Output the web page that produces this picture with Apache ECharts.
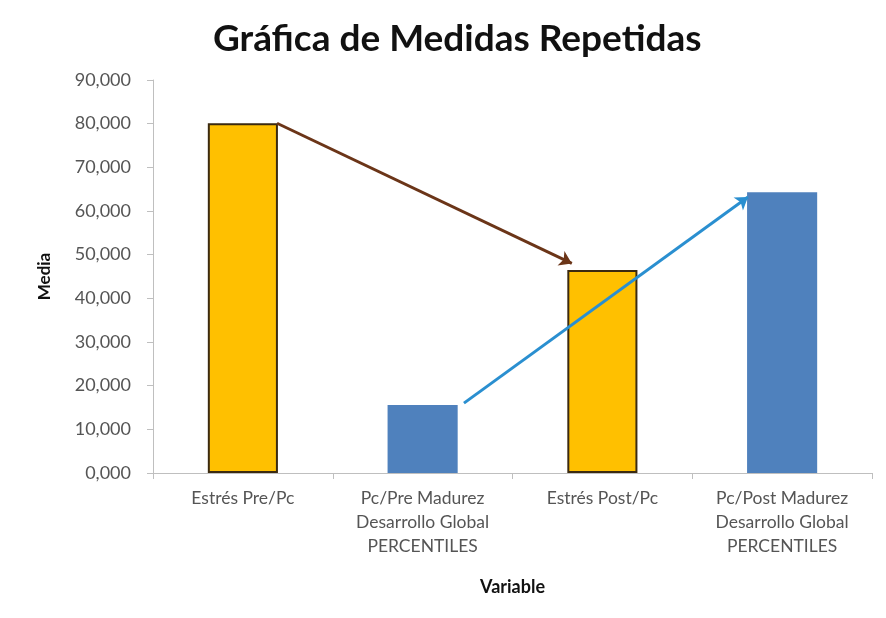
<!DOCTYPE html>
<html>
<head>
<meta charset="utf-8">
<script src="https://cdn.jsdelivr.net/npm/echarts@6/dist/echarts.min.js"></script>
<style>
  html, body { margin: 0; padding: 0; background: #fff; }
  #main { width: 886px; height: 618px; }
</style>
</head>
<body>
<div id="main"></div>
<script>
// datos
var categorias = [
    'Estrés Pre/Pc',
    'Pc/Pre Madurez\nDesarrollo Global\nPERCENTILES',
    'Estrés Post/Pc',
    'Pc/Post Madurez\nDesarrollo Global\nPERCENTILES'
];
var medias = [80.1, 15.6, 46.5, 64.3];
var coloresBarra = ['#FFC000', '#4F81BD', '#FFC000', '#4F81BD'];
var bordeBarra = ['#3b2a10', '#4F81BD', '#3b2a10', '#4F81BD'];

// flechas (x en unidades de categoría, 0 = borde izquierdo; y = media)
var flechaEstres = [[0.69, 80.1], [2.33, 48.0]];
var flechaMadurez = [[1.73, 16.0], [3.31, 63.2]];

var chart = echarts.init(document.getElementById('main'));

var option = {
    backgroundColor: '#fff',
    textStyle: { fontFamily: 'Lato' },
    title: {
        text: 'Gráfica de Medidas Repetidas',
        left: 208,
        top: 16,
        textStyle: { fontFamily: 'Lato', fontWeight: 'bold', fontSize: 37, color: '#111' }
    },
    grid: { left: 153, right: 14, top: 80, bottom: 145 },
    xAxis: [
        {
            type: 'category',
            data: categorias,
            name: 'Variable',
            nameLocation: 'middle',
            nameGap: 105,
            nameTextStyle: { fontWeight: 'bold', fontSize: 18, color: '#111' },
            axisLine: { lineStyle: { color: '#bfbfbf' } },
            axisTick: { show: true, length: 6, lineStyle: { color: '#bfbfbf' } },
            axisLabel: { color: '#555', fontSize: 17.5, lineHeight: 24, margin: 13 }
        },
        {
            type: 'value',
            min: 0,
            max: 4,
            show: false
        }
    ],
    yAxis: {
        type: 'value',
        min: 0,
        max: 90,
        interval: 10,
        name: 'Media',
        nameLocation: 'middle',
        nameGap: 100,
        nameRotate: 90,
        nameTextStyle: { fontWeight: 'bold', fontSize: 17, color: '#111' },
        splitLine: { show: false },
        axisLine: { show: true, lineStyle: { color: '#bfbfbf' } },
        axisTick: { show: true, length: 6, lineStyle: { color: '#bfbfbf' } },
        axisLabel: {
            color: '#555',
            fontSize: 18,
            margin: 22,
            formatter: function (v) { return v.toFixed(3).replace('.', ','); }
        }
    },
    series: [
        {
            type: 'bar',
            barWidth: '39%',
            data: medias.map(function (v, i) {
                return {
                    value: v,
                    itemStyle: {
                        color: coloresBarra[i],
                        borderColor: bordeBarra[i],
                        borderWidth: coloresBarra[i] === '#FFC000' ? 2 : 0
                    }
                };
            })
        },
        {
            type: 'lines',
            coordinateSystem: 'cartesian2d',
            xAxisIndex: 1,
            yAxisIndex: 0,
            symbol: ['none', 'arrow'],
            symbolSize: 12,
            lineStyle: { width: 3, opacity: 1 },
            data: [
                { coords: flechaEstres, lineStyle: { color: '#6b3518' } },
                { coords: flechaMadurez, lineStyle: { color: '#2a8fd0' } }
            ],
            z: 5
        }
    ]
};
chart.setOption(option);
</script>
</body>
</html>
